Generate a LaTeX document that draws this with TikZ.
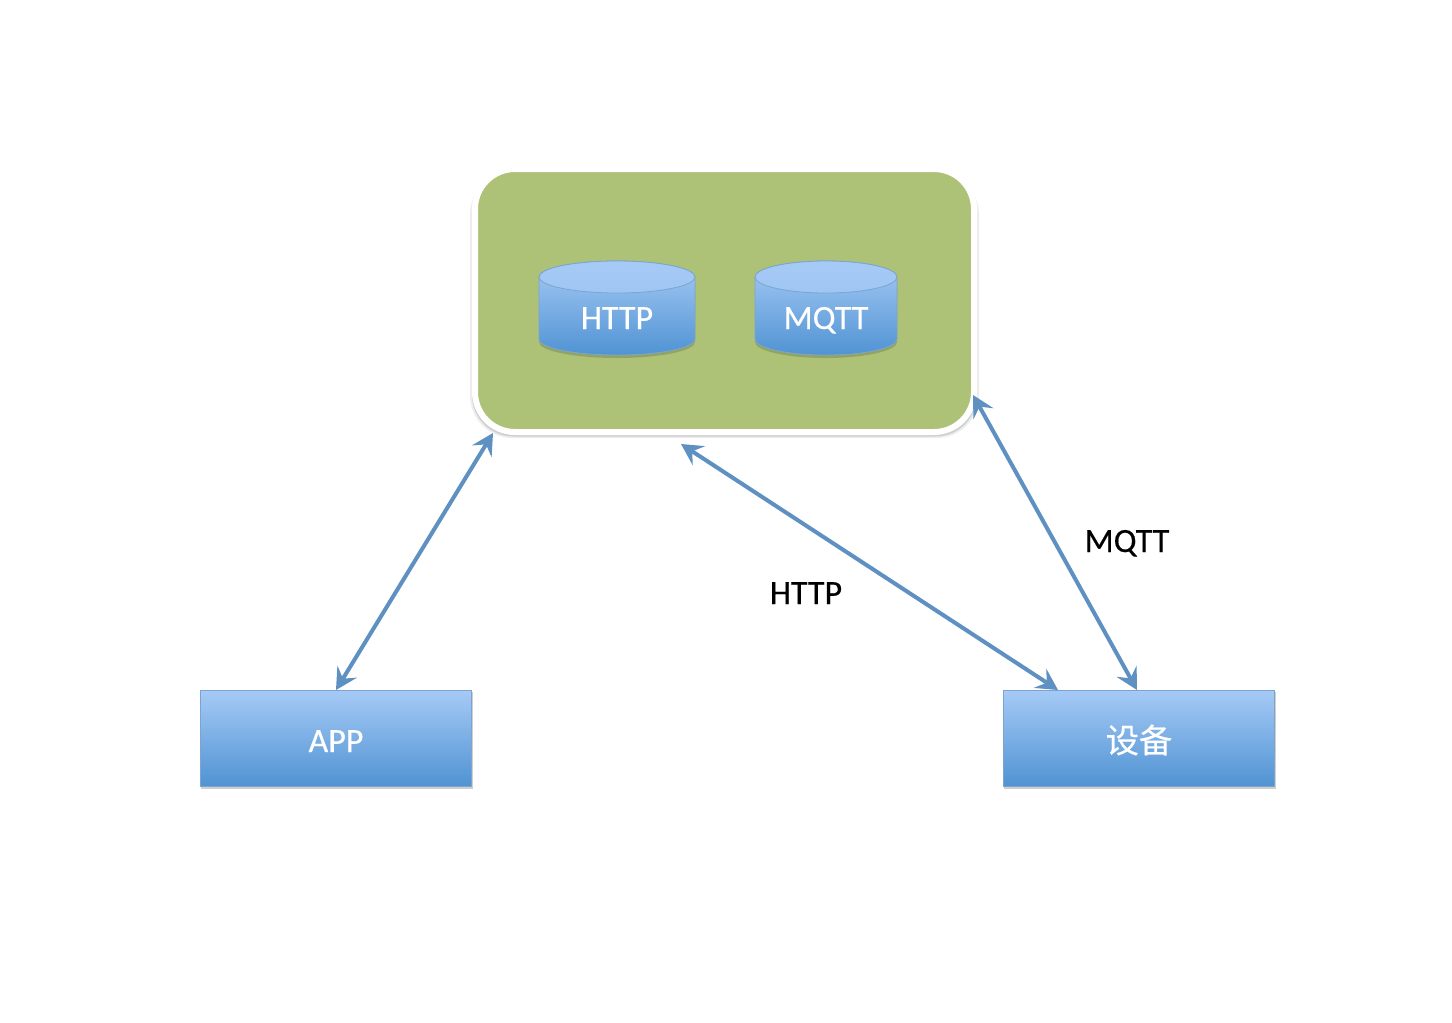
\documentclass[tikz,border=0pt]{standalone}
\usepackage{fontspec}
\setmainfont{Carlito}
\newfontfamily\labelfont[FakeBold=0.35]{Carlito}
\newfontfamily\cjkfont[FakeBold=0.35]{Noto Sans CJK SC}
\usetikzlibrary{arrows.meta,positioning}
\definecolor{bluetop}{HTML}{A6CAF6}
\definecolor{bluebot}{HTML}{5093D3}
\definecolor{blueedge}{HTML}{7BA5CF}
\definecolor{arrowblue}{HTML}{5E90C2}
\definecolor{panelgreen}{HTML}{ADC276}
\definecolor{softshadow}{HTML}{CFCFCF}
\definecolor{softershadow}{HTML}{EDEDED}
\tikzset{
  panel/.style={fill=panelgreen,draw=white,line width=4.5pt,rounded corners=30pt,outer sep=0pt},
  bluebox/.style={top color=bluetop,bottom color=bluebot,draw=blueedge,line width=0.6pt},
  flatbox/.style={bluebox,outer sep=0pt,minimum width=203.25pt,minimum height=72pt,inner sep=0pt,anchor=north west},
  whitetext/.style={text=white,font=\labelfont\fontsize{25.5pt}{28pt}\selectfont,inner sep=0pt},
  blacklabel/.style={text=black,font=\labelfont\fontsize{25.5pt}{28pt}\selectfont,inner sep=0pt,anchor=base},
  link/.style={draw=arrowblue,line width=3pt,{Stealth[length=16pt,width=17pt,inset=6pt]}-{Stealth[length=16pt,width=17pt,inset=6pt]}}
}
\newcommand{\drum}[2]{%
  \fill[panelgreen!70!black,opacity=0.5] (#1,280) -- (#1,342) arc[start angle=180,end angle=0,x radius={(#2-#1)/2},y radius=16] -- (#2,280) -- cycle;
  \path[bluebox] (#1,277) -- (#1,339) arc[start angle=180,end angle=0,x radius={(#2-#1)/2},y radius=16] -- (#2,277) arc[start angle=0,end angle=-180,x radius={(#2-#1)/2},y radius=16] -- cycle;
  \path[draw=blueedge,line width=0.6pt,top color=bluetop,bottom color=bluetop!92!bluebot] ({(#1+#2)/2},277) ellipse[x radius={(#2-#1)/2},y radius=16];
}
\begin{document}
\begin{tikzpicture}[x=0.75pt,y=-0.75pt]
\useasboundingbox (0,0) rectangle (1452,1022);
\fill[white] (0,0) rectangle (1452,1022);
% panel
\fill[softershadow,rounded corners=32pt] (470,172) rectangle (979,438);
\fill[softshadow,rounded corners=31pt] (472,172) rectangle (977,436.5);
\node[panel,minimum width=374.25pt,minimum height=197.25pt,inner sep=0pt,anchor=north west] (server) at (475,169) {};
% drums
\drum{539}{695}
\drum{755}{897}
\node[whitetext,anchor=base] (http) at (617,329) {HTTP};
\node[whitetext,anchor=base] (mqtt) at (826,329) {MQTT};
% boxes
\fill[softshadow] (201,692) rectangle (473,789);
\fill[softshadow] (1004,692) rectangle (1276,789);
\node[flatbox] (app) at (200,690) {};
\node[flatbox] (device) at (1003,690) {};
\node[whitetext,anchor=base] (applabel) at (336,752) {APP};
\node[text=white,inner sep=0pt] (devicelabel) at (1139,740) {\cjkfont\fontsize{25pt}{28pt}\selectfont 设备};
% connector ends
\coordinate (serverA) at (493,433);
\coordinate (serverB) at (681,444);
\coordinate (serverC) at (973,395);
\coordinate (appTop) at (336,690);
\coordinate (devA) at (1058,690);
\coordinate (devB) at (1137,690);
\draw[link] (serverA) -- (appTop);
\draw[link] (serverB) -- (devA);
\draw[link] (serverC) -- (devB);
% labels
\node[blacklabel] (lh) at (806,604) {HTTP};
\node[blacklabel] (lm) at (1127,552) {MQTT};
\end{tikzpicture}
\end{document}
